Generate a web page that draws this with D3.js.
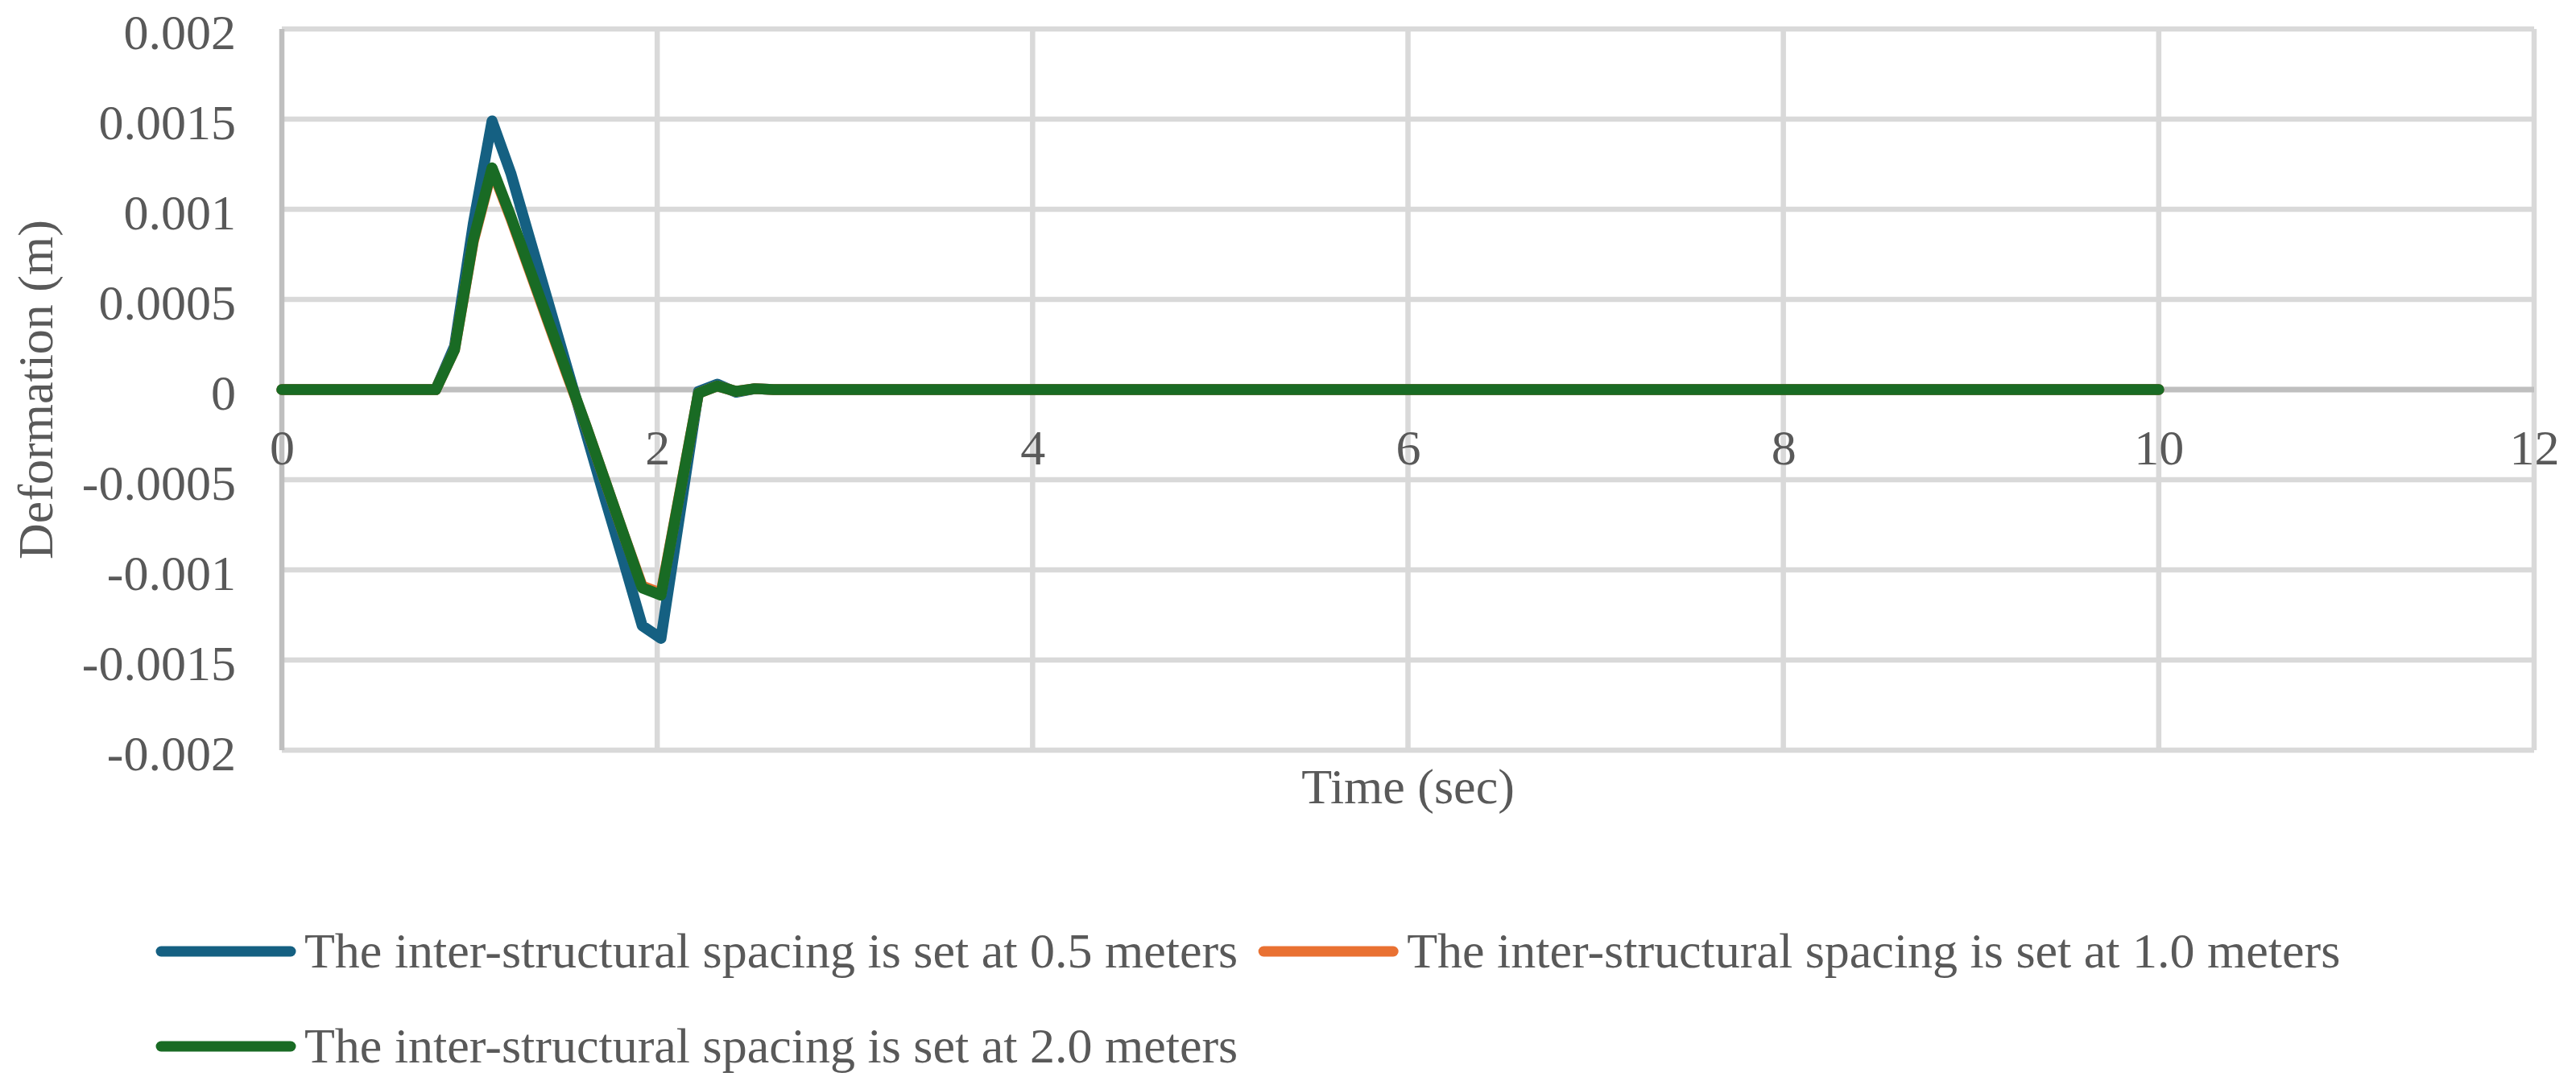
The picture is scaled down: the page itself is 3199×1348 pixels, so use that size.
<!DOCTYPE html>
<html>
<head>
<meta charset="utf-8">
<title>Deformation vs time</title>
<script src="https://cdn.jsdelivr.net/npm/d3@7"></script>
<style>
  body { margin: 0; background: #fff; }
  svg text { font-family: "Liberation Serif", "Times New Roman", serif; fill: #595959; }
</style>
</head>
<body>
<svg id="chart" width="3199" height="1348"></svg>
<script>
// data
const timeSec = [0, 0.82, 0.92, 1.02, 1.12, 1.22, 1.32, 1.42, 1.52, 1.62, 1.72, 1.82, 1.92, 2.02, 2.22, 2.32, 2.42, 2.52, 2.62, 10];
const spacing05 = [0, 0, 0.00024, 0.00092, 0.00149, 0.0012, 0.00084, 0.00048, 0.00012, -0.00024, -0.0006, -0.00095, -0.00131, -0.00138, -0.00001, 0.00003, -0.000015, 0.000005, 0, 0];
const spacing10 = [0, 0, 0.00022, 0.00082, 0.00122, 0.00095, 0.00066, 0.00037, 0.00008, -0.0002, -0.0005, -0.0008, -0.00109, -0.00113, -0.00002, 0.00002, -0.00001, 0.000005, 0, 0];
const spacing20 = [0, 0, 0.00022, 0.00083, 0.00123, 0.00096, 0.00067, 0.00038, 0.00009, -0.0002, -0.0005, -0.0008, -0.0011, -0.00114, -0.00002, 0.00002, -0.00001, 0.000005, 0, 0];

const seriesNames = [
  "The inter-structural spacing is set at 0.5 meters",
  "The inter-structural spacing is set at 1.0 meters",
  "The inter-structural spacing is set at 2.0 meters"
];
const seriesColors = ["#156082", "#E97132", "#196B24"];

const xTicks = [0, 2, 4, 6, 8, 10, 12];
const yTicks = [0.002, 0.0015, 0.001, 0.0005, 0, -0.0005, -0.001, -0.0015, -0.002];
const yTickLabels = ["0.002", "0.0015", "0.001", "0.0005", "0", "-0.0005", "-0.001", "-0.0015", "-0.002"];

const W = 3199, H = 1348;
const plotL = 350, plotR = 3147, plotT = 36, plotB = 932;
const fontSize = 62;

const svg = d3.select("#chart");

const x = d3.scaleLinear().domain([0, 12]).range([plotL, plotR]);
const y = d3.scaleLinear().domain([-0.002, 0.002]).range([plotB, plotT]);

// gridlines
svg.append("g")
  .selectAll("line")
  .data(yTicks.filter(function(d){ return d !== 0; }))
  .enter()
  .append("line")
  .attr("x1", plotL).attr("x2", plotR)
  .attr("y1", function(d){ return y(d); })
  .attr("y2", function(d){ return y(d); })
  .attr("stroke", "#d9d9d9")
  .attr("stroke-width", 6.5);

svg.append("g")
  .selectAll("line")
  .data(xTicks.filter(function(d){ return d !== 0; }))
  .enter()
  .append("line")
  .attr("x1", function(d){ return x(d); })
  .attr("x2", function(d){ return x(d); })
  .attr("y1", plotT).attr("y2", plotB)
  .attr("stroke", "#d9d9d9")
  .attr("stroke-width", 6.5);

// axis lines (crossing at zero)
svg.append("line")
  .attr("x1", x(0)).attr("x2", x(0))
  .attr("y1", plotT).attr("y2", plotB)
  .attr("stroke", "#bfbfbf").attr("stroke-width", 6.5);
svg.append("line")
  .attr("x1", plotL).attr("x2", plotR)
  .attr("y1", y(0)).attr("y2", y(0))
  .attr("stroke", "#bfbfbf").attr("stroke-width", 7);

// tick labels via d3 axes
const yAxis = svg.append("g")
  .attr("transform", "translate(" + plotL + ",0)")
  .call(d3.axisLeft(y).tickValues(yTicks).tickSize(0).tickPadding(57)
    .tickFormat(function(d, i){ return yTickLabels[i]; }));
yAxis.select(".domain").remove();
yAxis.selectAll("text")
  .attr("dy", "0.4em")
  .style("font-size", fontSize + "px")
  .style("font-family", null)
  .attr("fill", "#595959");

const xAxis = svg.append("g")
  .attr("transform", "translate(0," + y(0) + ")")
  .call(d3.axisBottom(x).tickValues(xTicks).tickSize(0).tickPadding(49)
    .tickFormat(d3.format("d")));
xAxis.select(".domain").remove();
xAxis.selectAll("text")
  .style("font-size", fontSize + "px")
  .attr("fill", "#595959");
svg.selectAll(".tick text").attr("font-family", null);

// axis titles
svg.append("text")
  .attr("x", (plotL + plotR) / 2)
  .attr("y", 998)
  .attr("text-anchor", "middle")
  .style("font-size", fontSize + "px")
  .text("Time (sec)");

svg.append("text")
  .attr("transform", "translate(65," + ((plotT + plotB) / 2) + ") rotate(-90)")
  .attr("text-anchor", "middle")
  .style("font-size", fontSize + "px")
  .text("Deformation (m)");

// series
const allSeries = [spacing05, spacing10, spacing20];
const line = d3.line()
  .x(function(d){ return x(d[0]); })
  .y(function(d){ return y(d[1]); });

svg.append("g")
  .selectAll("path")
  .data(allSeries)
  .enter()
  .append("path")
  .attr("d", function(vals){
    return line(vals.map(function(v, i){ return [timeSec[i], v]; }));
  })
  .attr("fill", "none")
  .attr("stroke", function(d, i){ return seriesColors[i]; })
  .attr("stroke-width", 13.5)
  .attr("stroke-linejoin", "round")
  .attr("stroke-linecap", "round");

// legend
const legendRows = [[0, 1], [2]];
const rowY = [1182, 1300];
const lineLen = 161, legStart = 200, textGap = 17, itemGap = 32;

legendRows.forEach(function(row, r){
  let cx = legStart;
  row.forEach(function(si){
    svg.append("line")
      .attr("x1", cx).attr("x2", cx + lineLen)
      .attr("y1", rowY[r]).attr("y2", rowY[r])
      .attr("stroke", seriesColors[si])
      .attr("stroke-width", 13)
      .attr("stroke-linecap", "round");
    const t = svg.append("text")
      .attr("x", cx + lineLen + textGap)
      .attr("y", rowY[r] + 20)
      .style("font-size", fontSize + "px")
      .text(seriesNames[si]);
    cx = cx + lineLen + textGap + t.node().getComputedTextLength() + itemGap;
  });
});
</script>
</body>
</html>
